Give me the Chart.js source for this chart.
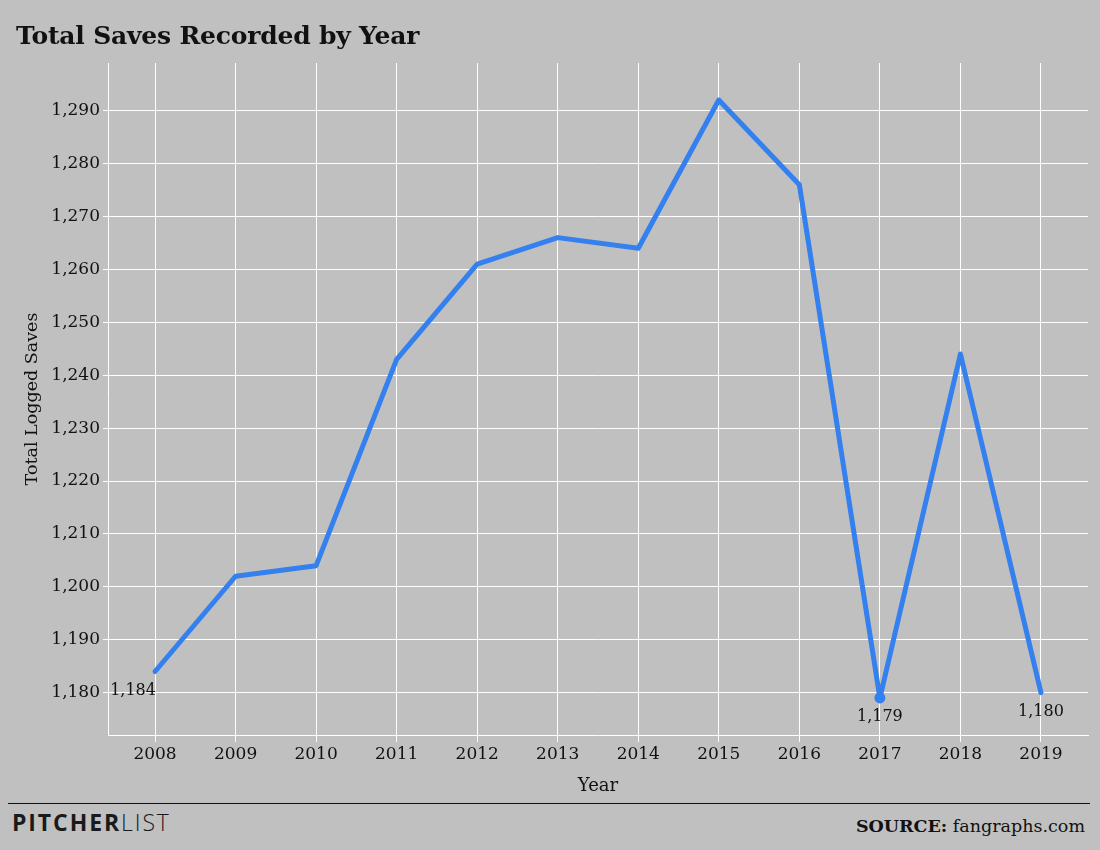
<!DOCTYPE html>
<html>
<head>
<meta charset="utf-8">
<script src="https://cdn.jsdelivr.net/npm/chart.js@4"></script>
<style>
  html, body { margin: 0; padding: 0; background: #c0c0c0; }
  #wrap { position: relative; width: 1100px; height: 850px; background: #c0c0c0; overflow: hidden; }
  #title { position: absolute; left: 16px; top: 21px; font-family: 'DejaVu Serif', serif; font-weight: bold; font-size: 25px; color: #111; white-space: nowrap; letter-spacing: -0.2px; }
  #chartBox { position: absolute; left: 0; top: 0; width: 1100px; height: 800px; }
  #rule { position: absolute; left: 8px; top: 803px; width: 1082px; height: 0; border-top: 1.5px solid #111; }
  #logo { position: absolute; left: 12px; top: 806px; font-family: 'Open Sans', sans-serif; font-size: 23px; color: #1a1a1a; white-space: nowrap; letter-spacing: 1.9px; }
  #logo b { font-weight: 700; }
  #logo span { font-weight: 300; }
  #source { position: absolute; right: 15px; top: 816px; font-family: 'DejaVu Serif', serif; font-size: 17.5px; color: #111; white-space: nowrap; }
</style>
</head>
<body>
<div id="wrap">
  <div id="chartBox"><canvas id="c" width="1100" height="800"></canvas></div>
  <div id="title">Total Saves Recorded by Year</div>
  <div id="rule"></div>
  <div id="logo"><b>PITCHER</b><span>LIST</span></div>
  <div id="source"><b>SOURCE:</b> fangraphs.com</div>
</div>
<script>
const years = [2008, 2009, 2010, 2011, 2012, 2013, 2014, 2015, 2016, 2017, 2018, 2019];
const saves = [1184, 1202, 1204, 1243, 1261, 1266, 1264, 1292, 1276, 1179, 1244, 1180];
const labeledYears = [2008, 2017, 2019];
const xTitle = 'Year';
const yTitle = 'Total Logged Saves';

const fmt = v => v.toLocaleString('en-US');

const labelPlugin = {
  id: 'pointLabels',
  afterDatasetsDraw(chart) {
    const ctx = chart.ctx;
    const meta = chart.getDatasetMeta(0);
    ctx.save();
    ctx.font = '16px "DejaVu Serif", serif';
    ctx.fillStyle = '#111';
    ctx.textAlign = 'center';
    ctx.textBaseline = 'middle';
    meta.data.forEach((pt, i) => {
      if (!labeledYears.includes(years[i])) return;
      const dx = i === 0 ? -22 : 0;
      ctx.fillText(fmt(saves[i]), pt.x + dx, pt.y + 19);
    });
    ctx.restore();
  }
};

new Chart(document.getElementById('c'), {
  type: 'line',
  data: {
    datasets: [{
      data: years.map((y, i) => ({ x: y, y: saves[i] })),
      borderColor: '#3380ee',
      backgroundColor: '#3380ee',
      borderWidth: 5,
      tension: 0,
      borderJoinStyle: 'round',
      borderCapStyle: 'round',
      pointRadius: ctx => (years[ctx.dataIndex] === 2017 ? 3 : 0),
      pointHoverRadius: 0
    }]
  },
  options: {
    responsive: false,
    maintainAspectRatio: false,
    animation: false,
    devicePixelRatio: 1,
    layout: { padding: { top: 63, right: 12, bottom: 0, left: 0 } },
    plugins: { legend: { display: false }, tooltip: { enabled: false } },
    scales: {
      x: {
        type: 'linear',
        min: 2007.416,
        max: 2019.584,
        afterFit: s => { s.height = 65; },
        ticks: {
          stepSize: 1,
          includeBounds: false,
          padding: 2,
          color: '#111',
          font: { family: 'DejaVu Serif', size: 17 },
          callback: v => String(v)
        },
        grid: { color: '#ffffff', lineWidth: 1, tickLength: 7, drawTicks: true },
        border: { display: true, color: '#ffffff', width: 1 },
        title: {
          display: true, text: xTitle, color: '#111',
          font: { family: 'DejaVu Serif', size: 18 },
          padding: { top: 0, bottom: 3 }
        }
      },
      y: {
        min: 1172,
        max: 1299,
        afterFit: s => { s.width = 108; },
        ticks: {
          stepSize: 10,
          includeBounds: false,
          padding: 3,
          color: '#111',
          font: { family: 'DejaVu Serif', size: 17 },
          callback: v => fmt(v)
        },
        grid: { color: '#ffffff', lineWidth: 1, tickLength: 5 },
        border: { display: true, color: '#ffffff', width: 1 },
        title: {
          display: true, text: yTitle, color: '#111',
          font: { family: 'DejaVu Serif', size: 17.5 },
          padding: { top: 22, bottom: 0 }
        }
      }
    }
  },
  plugins: [labelPlugin]
});
</script>
</body>
</html>
